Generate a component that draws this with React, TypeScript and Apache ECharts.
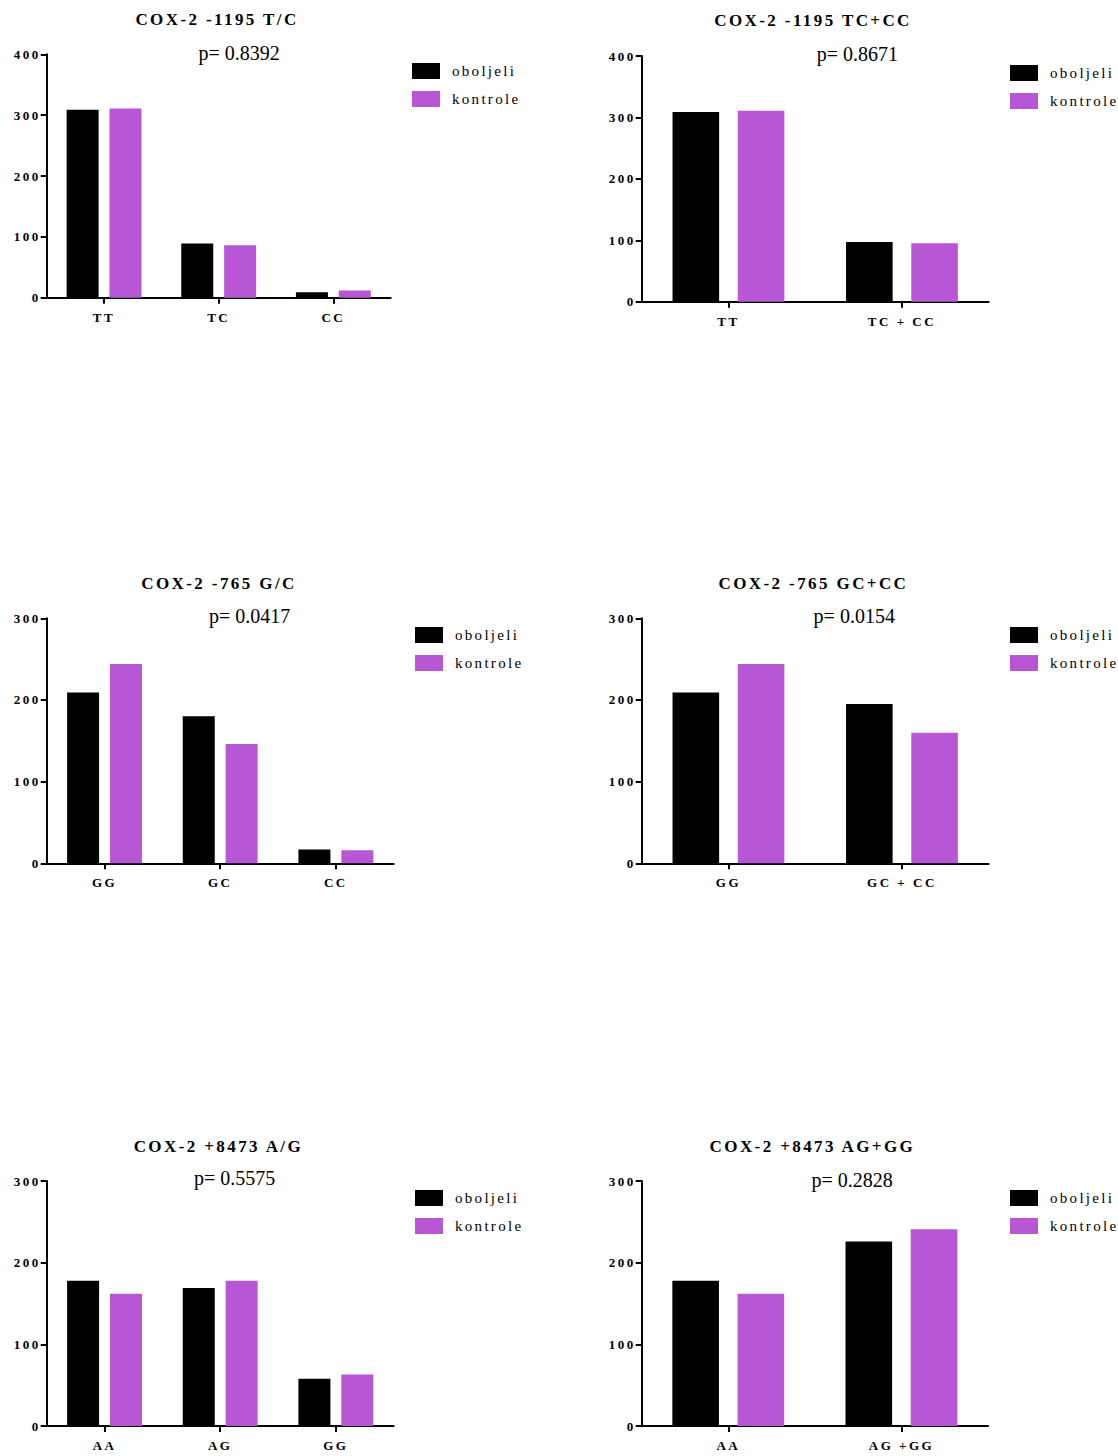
import React, { useEffect, useRef } from "react";
import * as echarts from "echarts";

// ---------- data ----------
const seriesNames = ["oboljeli", "kontrole"];

const cats1 = ["TT", "TC", "CC"];
const obolj1 = [309, 89, 9];
const kontr1 = [311, 86, 12];

const cats2 = ["TT", "TC + CC"];
const obolj2 = [309, 97];
const kontr2 = [311, 95];

const cats3 = ["GG", "GC", "CC"];
const obolj3 = [209, 180, 17];
const kontr3 = [244, 146, 16];

const cats4 = ["GG", "GC + CC"];
const obolj4 = [209, 195];
const kontr4 = [244, 160];

const cats5 = ["AA", "AG", "GG"];
const obolj5 = [178, 169, 58];
const kontr5 = [162, 178, 63];

const cats6 = ["AA", "AG +GG"];
const obolj6 = [178, 226];
const kontr6 = [162, 241];

const titles = [
  "COX-2 -1195 T/C",
  "COX-2 -1195 TC+CC",
  "COX-2 -765 G/C",
  "COX-2 -765 GC+CC",
  "COX-2 +8473 A/G",
  "COX-2 +8473 AG+GG",
];
const pValues = ["p= 0.8392", "p= 0.8671", "p= 0.0417", "p= 0.0154", "p= 0.5575", "p= 0.2828"];
const yMax = [400, 400, 300, 300, 300, 300];
const yTickStep = 100;

// ---------- layout ----------
const BLACK = "#000000";
const PURPLE = "#B857D6";
const FONT = '"Liberation Serif", "Times New Roman", serif';

const panels = [
  { cats: cats1, ob: obolj1, ko: kontr1, grid: { left: 46.7, top: 54.3, width: 344, height: 243.4 }, bw: 32, gap: "34%", title: [217, 19.7], p: [198.5, 53.3], legend: [412, 63] },
  { cats: cats2, ob: obolj2, ko: kontr2, grid: { left: 641.7, top: 56, width: 347, height: 245.7 }, bw: 46.6, gap: "40%", title: [813, 20], p: [816.8, 54], legend: [1010, 65] },
  { cats: cats3, ob: obolj3, ko: kontr3, grid: { left: 46.7, top: 618.3, width: 347, height: 245 }, bw: 32, gap: "34%", title: [219, 583], p: [209, 615.5], legend: [415, 627] },
  { cats: cats4, ob: obolj4, ko: kontr4, grid: { left: 641.7, top: 618.3, width: 347, height: 245 }, bw: 46.6, gap: "40%", title: [813.4, 583.3], p: [813.6, 616.3], legend: [1010, 627] },
  { cats: cats5, ob: obolj5, ko: kontr5, grid: { left: 46.7, top: 1181, width: 347, height: 245 }, bw: 32, gap: "34%", title: [218.4, 1146], p: [194, 1178.3], legend: [415, 1190] },
  { cats: cats6, ob: obolj6, ko: kontr6, grid: { left: 641.7, top: 1181, width: 346.3, height: 245 }, bw: 46.6, gap: "40%", title: [812.4, 1146.7], p: [811.4, 1179.5], legend: [1010, 1190] },
];

function buildOption() {
  const grid: any[] = [];
  const xAxis: any[] = [];
  const yAxis: any[] = [];
  const series: any[] = [];
  const legend: any[] = [];
  const graphic: any[] = [];

  panels.forEach((pn, i) => {
    grid.push({ ...pn.grid, containLabel: false });
    xAxis.push({
      type: "category",
      gridIndex: i,
      data: pn.cats,
      axisLine: { show: true, lineStyle: { color: BLACK, width: 2 } },
      axisTick: { show: true, alignWithLabel: true, length: 6, lineStyle: { color: BLACK, width: 2 } },
      axisLabel: { color: BLACK, fontFamily: FONT, fontWeight: "bold", fontSize: 13, margin: 13 },
      splitLine: { show: false },
    });
    yAxis.push({
      type: "value",
      gridIndex: i,
      min: 0,
      max: yMax[i],
      interval: yTickStep,
      axisLine: { show: true, lineStyle: { color: BLACK, width: 2 } },
      axisTick: { show: true, length: 6, lineStyle: { color: BLACK, width: 2 } },
      axisLabel: { color: BLACK, fontFamily: FONT, fontWeight: "bold", fontSize: 13, margin: 6 },
      splitLine: { show: false },
    });
    series.push({
      name: seriesNames[0],
      type: "bar",
      xAxisIndex: i,
      yAxisIndex: i,
      data: pn.ob,
      barWidth: pn.bw,
      barGap: pn.gap,
      itemStyle: { color: BLACK },
    });
    series.push({
      name: seriesNames[1],
      type: "bar",
      xAxisIndex: i,
      yAxisIndex: i,
      data: pn.ko,
      barWidth: pn.bw,
      barGap: pn.gap,
      itemStyle: { color: PURPLE },
    });
    legend.push({
      orient: "vertical",
      left: pn.legend[0],
      top: pn.legend[1],
      padding: 0,
      itemWidth: 28,
      itemHeight: 16,
      itemGap: 12,
      icon: "rect",
      selectedMode: false,
      data: seriesNames,
      textStyle: { color: BLACK, fontFamily: FONT, fontSize: 15, padding: [2, 0, 0, 7] },
    });
    graphic.push({
      type: "text",
      x: pn.title[0],
      y: pn.title[1],
      style: {
        text: titles[i],
        font: 'bold 17px "Liberation Serif"',
        fill: BLACK,
        align: "center",
        verticalAlign: "middle",
        textAlign: "center",
        textVerticalAlign: "middle",
      },
    });
    graphic.push({
      type: "text",
      x: pn.p[0],
      y: pn.p[1],
      style: {
        text: pValues[i],
        font: '20px "Liberation Serif"',
        fill: BLACK,
        align: "left",
        verticalAlign: "middle",
        textAlign: "left",
        textVerticalAlign: "middle",
      },
    });
  });

  return {
    animation: false,
    backgroundColor: "#ffffff",
    grid,
    xAxis,
    yAxis,
    series,
    legend,
    graphic,
  };
}

const spacingCss = `
#cox-chart text[style*="17px"], #cox-chart text[font-size="17"], #cox-chart text[font-size="17px"] { letter-spacing: 2.4px; }
#cox-chart text[style*="13px"], #cox-chart text[font-size="13"], #cox-chart text[font-size="13px"] { letter-spacing: 2.5px; }
#cox-chart text[style*="15px"], #cox-chart text[font-size="15"], #cox-chart text[font-size="15px"] { letter-spacing: 2.3px; }
`;

export default function App() {
  const ref = useRef<HTMLDivElement>(null);
  useEffect(() => {
    if (!ref.current) return;
    const chart = echarts.init(ref.current, undefined, { renderer: "svg", width: 1118, height: 1456 });
    chart.setOption(buildOption() as any);
    return () => chart.dispose();
  }, []);
  return (
    <>
      <style>{spacingCss}</style>
      <div
        id="cox-chart"
        ref={ref}
        style={{ position: "absolute", left: 0, top: 0, width: 1118, height: 1456, background: "#fff" }}
      />
    </>
  );
}
